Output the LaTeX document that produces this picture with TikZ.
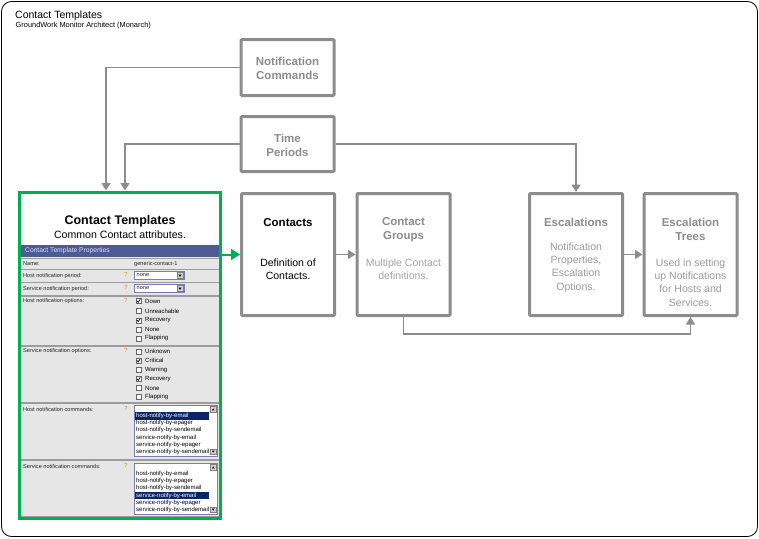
\documentclass[tikz,border=0pt]{standalone}
\usepackage{fontspec}
\setmainfont{Liberation Sans}
\usetikzlibrary{arrows.meta}

\definecolor{boxgray}{HTML}{8C8C8C}
\definecolor{descgray}{HTML}{9A9A9A}
\definecolor{tplgreen}{HTML}{00B050}
\definecolor{barblue}{HTML}{4E5A94}
\definecolor{rowgray}{HTML}{E6E6E6}
\definecolor{sepgray}{HTML}{9C9C9C}
\definecolor{selnavy}{HTML}{0A246A}
\definecolor{qorange}{HTML}{F0A040}
\definecolor{fieldblue}{HTML}{7C7CB4}
\definecolor{btngray}{HTML}{D4D0C8}

\newcommand\fsz[2]{\fontsize{#1}{#2}\selectfont}

\begin{document}
\begin{tikzpicture}[x=1pt,y=-1pt,
  box/.style={draw=boxgray, line width=3pt, fill=white, rounded corners=1pt,
    minimum width=93pt, inner sep=0pt},
  ttl/.style={font=\bfseries\fsz{11.5}{14}, text=boxgray, align=center, inner sep=0pt},
  desc/.style={font=\fsz{10.5}{13.3}, text=descgray, align=center, inner sep=0pt},
  conn/.style={draw=boxgray, line width=1.4pt, -{Triangle[width=9pt,length=7.5pt]}},
  gconn/.style={draw=tplgreen, line width=2pt, -{Triangle[width=11pt,length=9pt]}},
  panel/.style={draw=tplgreen, line width=3pt, minimum width=201pt,
    minimum height=326pt, inner sep=0pt},
  lbl/.style={font=\fsz{5.6}{6}, anchor=west, inner sep=0pt, text=black!85},
  qm/.style={font=\bfseries\fsz{6}{6}, text=qorange, inner sep=0pt},
  item/.style={font=\fsz{6}{7}, anchor=west, inner sep=0pt},
  field/.style={draw=fieldblue, line width=0.8pt, fill=white},
  btn/.style={draw=gray, line width=0.4pt, fill=btngray},
  chk/.style={draw=gray!80!black, line width=0.5pt, fill=white}]

\useasboundingbox (0,0) rectangle (759,538);

% outer frame and heading
\draw[rounded corners=10pt, line width=0.8pt] (1.5,1.5) rectangle (757.5,536.5);
\node[anchor=west, inner sep=0pt, font=\fsz{10.5}{12}] (title) at (15,15.5) {Contact Templates};
\node[anchor=west, inner sep=0pt, font=\fsz{7.4}{9}] (subtitle) at (15.5,25.8) {GroundWork Monitor Architect (Monarch)};

% ---------- template form panel ----------
\fill[white] (19.5,192) rectangle (220.5,518);
\node[font=\bfseries\fsz{12.5}{14}, inner sep=0pt] (tplhead) at (120,221) {Contact Templates};
\node[font=\fsz{10.6}{12}, inner sep=0pt] (tplsub) at (120,235) {Common Contact attributes.};
\fill[barblue] (20,245) rectangle (220,256.5);
\node[lbl, font=\fsz{6.7}{7}, text=white!88!blue] (bartext) at (25,250.7) {Contact Template Properties};
\fill[sepgray] (20,256.5) rectangle (220,517);
\fill[rowgray!70!white] (20,256.5) rectangle (220,258);
\foreach \t/\b in {259/268.5, 270/281.5, 283/294.5, 296.5/344.5,
                   346.5/401.5, 403.5/458.5, 460.5/516}
  \fill[rowgray] (21,\t) rectangle (219,\b);

% row labels
\node[lbl] (lname) at (23,263.7) {Name:};
\node[lbl] (lhp)   at (23,275.7) {Host notification period:};
\node[lbl] (lsp)   at (23,288.7) {Service notification period:};
\node[lbl] (lho)   at (23,301)   {Host notification options:};
\node[lbl] (lso)   at (23,351.5) {Service notification options:};
\node[lbl] (lhc)   at (23,409)   {Host notification commands:};
\node[lbl] (lsc)   at (23,466.5) {Service notification commands:};
\foreach \y in {274.5,287.5,300,350.5,408,465.5}
  \node[qm] at (126,\y) {?};

% values
\node[lbl] (vname) at (134,263.7) {generic-contact-1};
\foreach \y [count=\i] in {275.5,288.5}{
  \draw[field] (134,\y-4) rectangle (184,\y+4);
  \node[lbl, font=\fsz{5.6}{6}] at (136.5,\y) {none};
  \draw[btn] (177,\y-3) rectangle (183,\y+3);
  \fill[black] (178.3,\y-1) -- (181.7,\y-1) -- (180,\y+1.3) -- cycle;
}

% option check boxes
\foreach \y/\txt/\c in {301/Down/1, 311/Unreachable/0, 320.3/Recovery/1,
    329.3/None/0, 338.3/Flapping/0, 351.7/Unknown/0, 360.7/Critical/1,
    370/Warning/0, 379/Recovery/1, 388/None/0, 397/Flapping/0}{
  \draw[chk] (136,\y-2.5) rectangle (141,\y+2.5);
  \node[item] at (145,\y) {\txt};
  \ifnum\c=1
    \draw[line width=0.7pt] (137,\y-0.3) -- (138.2,\y+1.4) -- (140.2,\y-1.8);
  \fi
}

% command list boxes (second value: index of the selected entry, from 0)
\foreach \top/\sel in {405/0, 463/3}{
  \draw[field] (134,\top) rectangle (217,\top+51);
  \draw[btn] (210.5,\top+1.5) rectangle (216,\top+7);
  \draw[btn] (210.5,\top+44) rectangle (216,\top+49.5);
  \fill[black] (212,\top+5.3) -- (214.5,\top+5.3) -- (213.25,\top+3.3) -- cycle;
  \fill[black] (212,\top+45.7) -- (214.5,\top+45.7) -- (213.25,\top+47.7) -- cycle;
  \fill[selnavy] (135,\top+11+7.2*\sel-3.6) rectangle (208.5,\top+11+7.2*\sel+3.6);
  \foreach \cmd [count=\k from 0] in {host-notify-by-email, host-notify-by-epager,
      host-notify-by-sendemail, service-notify-by-email,
      service-notify-by-epager, service-notify-by-sendemail}{
    \ifnum\k=\sel
      \node[item, text=white] at (136,\top+11+7.2*\k) {\cmd};
    \else
      \node[item] at (136,\top+11+7.2*\k) {\cmd};
    \fi
  }
}

\node[panel] (tpl) at (120,355) {};

% ---------- object boxes ----------
\node[box, minimum height=56pt]  (nc)       at (287.5,67.5) {};
\node[box, minimum height=55pt]  (tp)       at (287.5,144)  {};
\node[box, minimum height=122pt] (contacts) at (288,254.5)  {};
\node[box, minimum height=122pt] (groups)   at (403.5,254.5) {};
\node[box, minimum height=122pt] (esc)      at (576,254.5)  {};
\node[box, minimum height=122pt] (trees)    at (690.5,254.5) {};

\node[ttl] (nct) at (287.5,68) {Notification\\Commands};
\node[ttl] (tpt) at (287.5,145) {Time\\Periods};
\node[ttl, text=black] (ctt) at (288,223) {Contacts};
\node[desc, text=black] (ctd) at (288,269) {Definition of\\Contacts.};
\node[ttl] (grt) at (403.5,229.5) {Contact\\Groups};
\node[desc, text=descgray!90!white] (grd) at (403.5,269) {Multiple Contact\\definitions.};
\node[ttl] (est) at (576,222.5) {Escalations};
\node[desc] (esd) at (576,267.5) {Notification\\Properties,\\Escalation\\Options.};
\node[ttl] (trt) at (690.5,229.5) {Escalation\\Trees};
\node[desc] (trd) at (690.5,282.5) {Used in setting\\up Notifications\\for Hosts and\\Services.};

% ---------- connectors ----------
\draw[conn] (nc.west) -| ([xshift=-14pt]tpl.north);
\draw[conn] (tp.west) -| ([xshift=5pt]tpl.north);
\draw[conn] (tp.east) -| (esc.north);
\draw[gconn] (contacts.west -| tpl.east) -- (contacts.west);
\draw[conn] (contacts.east) -- (groups.west);
\draw[conn] (esc.east) -- (trees.west);
\draw[conn] (groups.south) -- ++(0,17) -| (trees.south);
\end{tikzpicture}
\end{document}
